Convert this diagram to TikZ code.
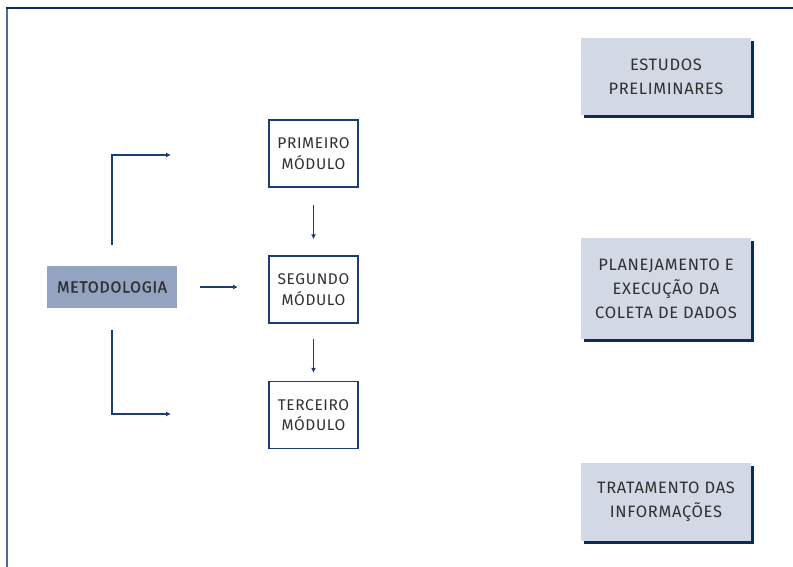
\documentclass[tikz,border=0pt]{standalone}
\usepackage{fontspec}
\setmainfont{Fira Sans}[LetterSpace=4]
\usetikzlibrary{arrows.meta}
\definecolor{navy}{HTML}{0B2A5C}
\definecolor{linec}{HTML}{1B3D6F}
\definecolor{leftc}{HTML}{4E6A98}
\definecolor{lightbox}{HTML}{D3D8E5}
\definecolor{metbox}{HTML}{94A3C0}
\definecolor{txt}{HTML}{303030}
\tikzset{
  every node/.style={font=\fontsize{16.5}{24}\selectfont, text=txt, align=center},
  sidebox/.style={fill=lightbox, minimum width=170pt, inner sep=0pt},
  modbox/.style={draw=linec, line width=1.3pt, fill=white, minimum width=89pt, minimum height=67pt, inner sep=0pt, font=\fontsize{15.5}{20.5}\selectfont},
  conn/.style={draw=linec, line width=1.5pt, -{Latex[length=5pt,width=5pt]}},
}
\begin{document}
\begin{tikzpicture}[x=1pt,y=-1pt]
\useasboundingbox (0,0) rectangle (793,567);
% frame
\draw[leftc, line width=2pt] (7,8) -- (7,567);
\draw[navy, line width=2pt] (6,8) -- (793,8);
% side boxes with shadows
\fill[navy] (584,41) rectangle (754,118);
\node[sidebox, minimum height=77pt] (est) at (666,76.5) {ESTUDOS\\PRELIMINARES};
\fill[navy] (584,241) rectangle (754,342);
\node[sidebox, minimum height=101pt] (pla) at (666,288.5) {PLANEJAMENTO E\\EXECUÇÃO DA\\COLETA DE DADOS};
\fill[navy] (584,466) rectangle (754,544);
\node[sidebox, minimum height=78pt] (tra) at (666,502) {TRATAMENTO DAS\\INFORMAÇÕES};
% metodologia
\node[fill=metbox, minimum width=130pt, minimum height=42pt, inner sep=0pt, font=\fontsize{16}{18}\selectfont\addfontfeatures{FakeBold=0.6}] (met) at (112,287) {METODOLOGIA};
% modules
\node[modbox] (m1) at (313.5,153.5) {PRIMEIRO\\MÓDULO};
\node[modbox] (m2) at (313.5,289.5) {SEGUNDO\\MÓDULO};
\node[modbox] (m3) at (313.5,415) {TERCEIRO\\MÓDULO};
% connector ends
\coordinate (up0) at (112,245);
\coordinate (up1) at (171,155);
\coordinate (dn0) at (112,330);
\coordinate (dn1) at (171,414);
\coordinate (mid0) at (200,287);
\coordinate (mid1) at (238,287);
\draw[conn] (up0) |- (up1);
\draw[conn] (dn0) |- (dn1);
\draw[conn] (mid0) -- (mid1);
\draw[conn] ([yshift=-17pt]m1.south) -- ([yshift=16pt]m2.north);
\draw[conn] ([yshift=-15pt]m2.south) -- ([yshift=8pt]m3.north);
\end{tikzpicture}
\end{document}
